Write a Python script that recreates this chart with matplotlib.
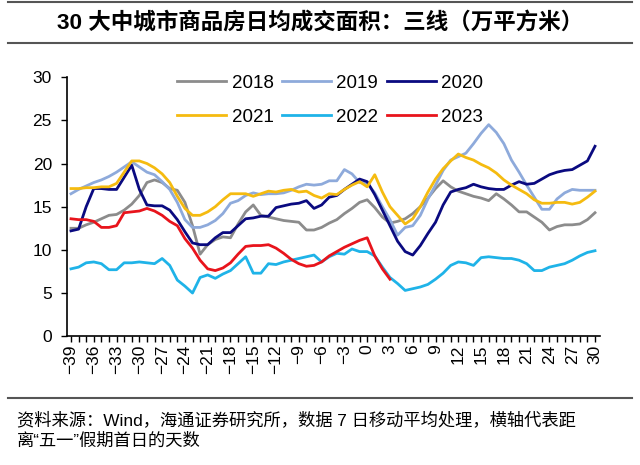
import numpy as np
import matplotlib
matplotlib.use('Agg')
import matplotlib.pyplot as plt
from matplotlib.lines import Line2D

plt.rcParams['font.family'] = ['Liberation Sans', 'Noto Sans CJK SC', 'DejaVu Sans']

# days relative to the first day of the May Day holiday
days = list(range(-39, 31))

y2018 = [12.5, 12.5, 12.9, 13.2, 13.6, 14.0, 14.1, 14.6, 15.3, 16.3,
         17.8, 18.1, 17.8, 17.1, 16.9, 15.5, 12.8, 9.5, 10.6, 11.2,
         11.5, 11.4, 13.0, 14.4, 15.2, 14.0, 13.8, 13.6, 13.4, 13.3,
         13.2, 12.3, 12.3, 12.6, 13.1, 13.5, 14.2, 14.8, 15.5, 15.8,
         14.9, 13.8, 13.1, 13.3, 13.6, 14.2, 15.0, 16.0, 17.1, 18.0,
         17.3, 16.8, 16.5, 16.2, 16.0, 15.7, 16.5, 15.9, 15.2, 14.4,
         14.4, 13.8, 13.2, 12.3, 12.7, 12.9, 12.9, 13.0, 13.5, 14.3]
y2019 = [16.5, 17.0, 17.4, 17.8, 18.1, 18.5, 19.0, 19.6, 20.2, 19.6,
         19.0, 18.7, 17.9, 17.0, 15.5, 13.5, 12.6, 12.6, 12.9, 13.4,
         14.2, 15.4, 15.7, 16.3, 16.6, 16.4, 16.5, 16.5, 16.6, 16.9,
         17.3, 17.6, 17.5, 17.6, 18.0, 18.0, 19.3, 18.8, 17.8, 17.7,
         16.6, 15.0, 13.5, 11.7, 12.6, 12.8, 14.0, 15.9, 17.5, 19.2,
         20.4, 20.8, 21.2, 22.3, 23.5, 24.5, 23.6, 22.3, 20.4, 19.0,
         17.5, 16.1, 14.7, 14.7, 15.9, 16.6, 17.0, 16.9, 16.9, 16.9]
y2020 = [12.2, 12.4, 15.0, 17.1, 17.1, 17.0, 17.0, 18.4, 19.8, 17.0,
         15.2, 15.1, 15.1, 14.6, 13.5, 12.1, 10.8, 10.6, 10.6, 11.4,
         12.0, 12.0, 12.8, 13.6, 13.7, 13.9, 13.9, 14.9, 15.1, 15.3,
         15.4, 15.7, 14.8, 15.2, 16.1, 16.3, 17.0, 17.6, 18.2, 17.9,
         16.4, 14.6, 12.8, 11.0, 9.8, 9.4, 10.5, 11.9, 13.2, 15.2,
         16.7, 17.0, 17.2, 17.6, 17.3, 17.1, 17.0, 17.0, 17.5, 17.9,
         17.6, 17.7, 18.2, 18.7, 19.0, 19.2, 19.3, 19.8, 20.3, 22.0]
y2021 = [17.1, 17.1, 17.2, 17.2, 17.3, 17.3, 17.7, 19.0, 20.3, 20.3,
         20.0, 19.5, 18.8, 17.8, 16.2, 14.8, 14.0, 14.0, 14.4, 15.0,
         15.8, 16.5, 16.5, 16.5, 16.2, 16.5, 16.8, 16.7, 16.9, 17.0,
         16.7, 16.8, 16.3, 16.0, 16.5, 16.4, 17.0, 17.5, 17.9, 17.3,
         18.7, 16.7, 15.0, 14.0, 13.0, 13.6, 15.0, 16.7, 18.2, 19.4,
         20.3, 21.1, 20.7, 20.4, 19.9, 19.5, 18.9, 18.1, 17.5, 17.0,
         16.5, 15.8, 15.4, 15.4, 15.5, 15.5, 15.3, 15.5, 16.1, 16.8]
y2022 = [7.8, 8.0, 8.5, 8.6, 8.4, 7.7, 7.7, 8.5, 8.5, 8.6,
         8.5, 8.4, 9.0, 8.2, 6.5, 5.8, 5.0, 6.8, 7.1, 6.7,
         7.2, 7.6, 8.4, 9.2, 7.3, 7.3, 8.4, 8.3, 8.6, 8.8,
         9.0, 9.2, 9.4, 8.6, 9.2, 9.6, 9.5, 10.1, 9.8, 9.8,
         9.3, 8.0, 6.8, 6.1, 5.3, 5.5, 5.7, 6.0, 6.6, 7.3,
         8.2, 8.6, 8.5, 8.2, 9.1, 9.2, 9.1, 9.0, 9.0, 8.8,
         8.4, 7.6, 7.6, 8.0, 8.2, 8.4, 8.8, 9.3, 9.7, 9.9]
# 2023 only runs up to day 3
y2023 = [13.6, 13.5, 13.5, 13.3, 12.6, 12.6, 12.8, 14.3, 14.4, 14.5,
         14.8, 14.5, 14.0, 13.3, 12.8, 11.3, 10.2, 8.8, 7.8, 7.6,
         7.9, 8.5, 9.5, 10.4, 10.5, 10.5, 10.6, 10.2, 9.6, 8.9,
         8.4, 8.1, 8.2, 8.6, 9.3, 9.8, 10.3, 10.7, 11.1, 11.4,
         9.3, 7.8, 6.6]

years = ['2018', '2019', '2020', '2021', '2022', '2023']
colors = ['#8c8c8c', '#8eaadb', '#0a0a80', '#f5bb10', '#1fb3e8', '#e8141c']
series = [y2018, y2019, y2020, y2021, y2022, y2023]

fig = plt.figure(figsize=(6.4, 4.65), dpi=100)
ax = fig.add_axes([0.105, 0.277, 0.833, 0.557])

handles = []
for name, col, vals in zip(years, colors, series):
    h, = ax.plot(days[:len(vals)], vals, color=col, lw=2, label=name)
    handles.append(h)

ax.set_xlim(-39.5, 30.7)
ax.set_ylim(0, 30)
ax.set_yticks(range(0, 31, 5))
ax.set_xticks(range(-39, 31, 3))
ax.set_xticks(range(-39, 31), minor=True)
ax.tick_params(axis='x', which='both', direction='out', length=4, width=1, labelrotation=90, labelsize=12.5, pad=2)
ax.tick_params(axis='y', direction='out', length=4, width=1, labelsize=12.5, pad=7)
for s in ['top', 'right']:
    ax.spines[s].set_visible(False)
for s in ['left', 'bottom']:
    ax.spines[s].set_linewidth(1.2)

# legend fills by column, so reorder to get 2018/2019/2020 on the first row
order = [0, 3, 1, 4, 2, 5]
ax.legend([handles[i] for i in order], [years[i] for i in order], ncol=3, loc='upper left',
          bbox_to_anchor=(0.175, 1.075), frameon=False, fontsize=13.5, handlelength=2.6,
          columnspacing=0.45, handletextpad=0.3, labelspacing=0.9)

# title block with rules above and below
fig.add_artist(Line2D([0.012, 0.988], [0.995, 0.995], color='#555555', lw=1.5))
fig.add_artist(Line2D([0.012, 0.988], [0.9075, 0.9075], color='#555555', lw=1.5))
fig.text(0.5, 0.949, '30 大中城市商品房日均成交面积：三线（万平方米）', ha='center', va='center',
         fontsize=16.2, fontweight='bold')

fig.add_artist(Line2D([0.012, 0.988], [0.144, 0.144], color='#555555', lw=1.5))
fig.text(0.027, 0.095, '资料来源：Wind，海通证券研究所，数据 7 日移动平均处理，横轴代表距', fontsize=12.45, va='center')
fig.text(0.027, 0.052, '离“五一”假期首日的天数', fontsize=12.45, va='center')

fig.savefig('out.png', dpi=100)
